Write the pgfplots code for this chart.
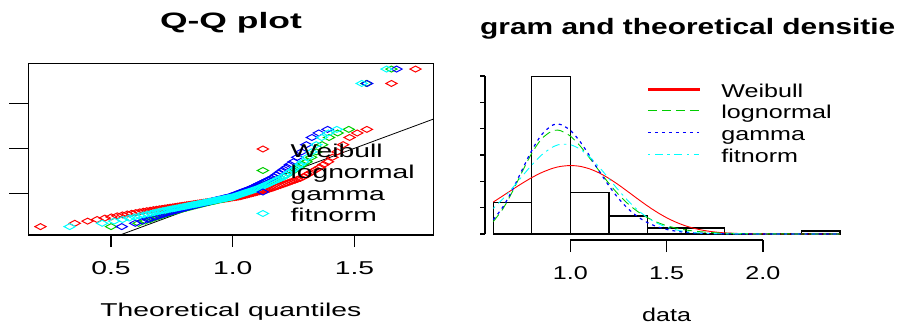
\documentclass[border=0pt]{standalone}
\usepackage{pgfplots}
\pgfplotsset{compat=1.18}
\usepackage{pgfplotstable}
\usepackage{graphicx}
\usepackage{fontspec}
\setmainfont{Liberation Sans}

\definecolor{rred}{RGB}{255,0,0}
\definecolor{rgreen}{RGB}{0,205,0}
\definecolor{rblue}{RGB}{0,0,255}
\definecolor{rcyan}{RGB}{0,255,255}

\newcommand\fs{\fontsize{18.6pt}{20pt}\selectfont}
\newcommand\ft{\fontsize{22.3pt}{24pt}\selectfont\bfseries}
\newcommand\sxl[1]{\scalebox{1.52}[1]{#1}}
\newcommand\sxr[1]{\scalebox{1.35}[1]{#1}}

% sorted sample (y) against theoretical quantiles of the four fits
\pgfplotstableread{
y     W      LN     G      N
0.630 0.2100 0.5000 0.5439 0.3300
0.667 0.3510 0.6132 0.5993 0.4635
0.691 0.4036 0.6412 0.6294 0.5125
0.709 0.4426 0.6618 0.6521 0.5471
0.725 0.4744 0.6784 0.6687 0.5744
0.738 0.5015 0.6926 0.6835 0.5970
0.750 0.5254 0.7050 0.6965 0.6166
0.760 0.5469 0.7162 0.7081 0.6339
0.770 0.5666 0.7267 0.7189 0.6498
0.778 0.5847 0.7362 0.7286 0.6640
0.786 0.6016 0.7452 0.7378 0.6773
0.794 0.6175 0.7538 0.7466 0.6899
0.801 0.6326 0.7619 0.7548 0.7016
0.807 0.6468 0.7695 0.7630 0.7126
0.812 0.6605 0.7769 0.7700 0.7231
0.818 0.6735 0.7841 0.7772 0.7331
0.823 0.6861 0.7909 0.7841 0.7427
0.828 0.6982 0.7975 0.7906 0.7518
0.832 0.7099 0.8042 0.7973 0.7609
0.837 0.7212 0.8103 0.8034 0.7693
0.841 0.7322 0.8166 0.8096 0.7777
0.846 0.7429 0.8227 0.8156 0.7859
0.850 0.7533 0.8286 0.8215 0.7938
0.854 0.7635 0.8345 0.8273 0.8015
0.858 0.7735 0.8402 0.8329 0.8090
0.862 0.7832 0.8457 0.8383 0.8162
0.866 0.7928 0.8513 0.8438 0.8234
0.870 0.8022 0.8568 0.8491 0.8304
0.873 0.8114 0.8623 0.8545 0.8374
0.877 0.8205 0.8676 0.8597 0.8442
0.880 0.8294 0.8730 0.8649 0.8510
0.884 0.8382 0.8782 0.8699 0.8575
0.887 0.8469 0.8835 0.8750 0.8640
0.891 0.8555 0.8887 0.8801 0.8706
0.894 0.8639 0.8938 0.8850 0.8769
0.898 0.8723 0.8990 0.8899 0.8832
0.901 0.8806 0.9042 0.8949 0.8895
0.904 0.8888 0.9092 0.8997 0.8955
0.908 0.8969 0.9144 0.9047 0.9019
0.911 0.9050 0.9195 0.9095 0.9079
0.914 0.9130 0.9246 0.9143 0.9140
0.917 0.9210 0.9296 0.9190 0.9198
0.920 0.9289 0.9347 0.9239 0.9259
0.924 0.9368 0.9397 0.9286 0.9317
0.927 0.9446 0.9449 0.9335 0.9378
0.930 0.9524 0.9499 0.9383 0.9436
0.933 0.9602 0.9550 0.9430 0.9495
0.936 0.9679 0.9601 0.9478 0.9553
0.939 0.9756 0.9652 0.9526 0.9611
0.942 0.9833 0.9704 0.9574 0.9670
0.946 0.9911 0.9758 0.9624 0.9730
0.949 0.9987 0.9810 0.9672 0.9789
0.952 1.0064 0.9862 0.9721 0.9847
0.955 1.0141 0.9915 0.9770 0.9905
0.958 1.0218 0.9968 0.9818 0.9964
0.962 1.0296 1.0021 0.9868 1.0022
0.967 1.0373 1.0076 0.9919 1.0083
0.973 1.0450 1.0130 0.9968 1.0141
0.978 1.0528 1.0186 1.0019 1.0202
0.983 1.0606 1.0241 1.0069 1.0260
0.989 1.0685 1.0297 1.0121 1.0321
0.994 1.0764 1.0355 1.0173 1.0382
1.000 1.0843 1.0414 1.0227 1.0445
1.005 1.0923 1.0472 1.0280 1.0505
1.011 1.1004 1.0532 1.0334 1.0568
1.017 1.1085 1.0593 1.0389 1.0631
1.022 1.1167 1.0654 1.0444 1.0694
1.028 1.1250 1.0718 1.0501 1.0760
1.034 1.1333 1.0782 1.0559 1.0825
1.040 1.1418 1.0846 1.0616 1.0890
1.046 1.1504 1.0913 1.0676 1.0958
1.053 1.1591 1.0981 1.0736 1.1026
1.061 1.1679 1.1051 1.0799 1.1096
1.070 1.1769 1.1122 1.0862 1.1166
1.079 1.1860 1.1196 1.0927 1.1238
1.087 1.1953 1.1270 1.0992 1.1310
1.096 1.2047 1.1347 1.1060 1.1385
1.105 1.2144 1.1427 1.1130 1.1462
1.115 1.2243 1.1510 1.1202 1.1542
1.125 1.2344 1.1596 1.1277 1.1623
1.135 1.2448 1.1685 1.1355 1.1707
1.145 1.2555 1.1775 1.1433 1.1791
1.156 1.2666 1.1873 1.1517 1.1882
1.167 1.2780 1.1972 1.1602 1.1973
1.183 1.2898 1.2077 1.1692 1.2069
1.202 1.3021 1.2188 1.1787 1.2169
1.222 1.3150 1.2305 1.1887 1.2274
1.243 1.3285 1.2429 1.1992 1.2384
1.265 1.3427 1.2562 1.2104 1.2501
1.289 1.3577 1.2707 1.2226 1.2627
1.320 1.3737 1.2862 1.2355 1.2760
1.350 1.3910 1.3030 1.2495 1.2902
1.400 1.4097 1.3220 1.2652 1.3061
1.460 1.4304 1.3430 1.2824 1.3234
1.540 1.4535 1.3672 1.3022 1.3430
1.620 1.4800 1.3957 1.3253 1.3656
1.670 1.5115 1.4309 1.3534 1.3929
1.710 1.5511 1.4767 1.3896 1.4275
2.220 1.6520 1.5490 1.5520 1.5300
2.380 1.7510 1.6520 1.6730 1.6320
}\qqdata

% fitted densities on a grid over the data range
\pgfplotstableread{
x     W      LN     G      N
0.600 0.6067 0.2364 0.2719 0.4865
0.650 0.7252 0.4779 0.5137 0.6678
0.700 0.8456 0.8084 0.8414 0.8755
0.750 0.9627 1.1824 1.2192 1.0962
0.800 1.0710 1.5344 1.5874 1.3111
0.850 1.1645 1.8023 1.8816 1.4977
0.900 1.2370 1.9475 2.0523 1.6341
0.925 1.2639 1.9701 2.0835 1.6778
0.950 1.2836 1.9609 2.0784 1.7030
1.000 1.3001 1.8594 1.9692 1.6952
1.050 1.2846 1.6749 1.7569 1.6118
1.100 1.2367 1.4436 1.4844 1.4637
1.150 1.1590 1.1979 1.1934 1.2696
1.200 1.0560 0.9617 0.9169 1.0519
1.250 0.9343 0.7504 0.6757 0.8323
1.300 0.8015 0.5711 0.4792 0.6291
1.350 0.6657 0.4252 0.3279 0.4542
1.400 0.5344 0.3107 0.2172 0.3132
1.450 0.4140 0.2232 0.1395 0.2063
1.500 0.3089 0.1580 0.0871 0.1298
1.550 0.2218 0.1105 0.0529 0.0780
1.600 0.1527 0.0764 0.0314 0.0448
1.650 0.1008 0.0523 0.0182 0.0245
1.700 0.0636 0.0355 0.0103 0.0128
1.750 0.0382 0.0239 0.0057 0.0064
1.800 0.0219 0.0160 0.0031 0.0031
1.900 0.0062 0.0070 0.0009 0.0006
2.000 0.0014 0.0030 0.0002 0.0001
2.100 0.0002 0.0013 0.0000 0.0000
2.200 0.0000 0.0006 0.0000 0.0000
2.300 0.0000 0.0002 0.0000 0.0000
2.400 0.0000 0.0001 0.0000 0.0000
}\densdata

% histogram bars (density per 0.2-wide bin), traced as one outline
\pgfplotstableread{
x   d
0.6 0
0.6 0.593
0.8 0.593
0.8 0
0.8 2.994
1.0 2.994
1.0 0
1.0 0.791
1.2 0.791
1.2 0
1.2 0.339
1.4 0.339
1.4 0
1.4 0.113
1.6 0.113
1.6 0
1.6 0.113
1.8 0.113
1.8 0
2.2 0
2.2 0.0565
2.4 0.0565
2.4 0
0.6 0
}\histdata

\begin{document}
\begin{tikzpicture}[x=1pt,y=1pt]
\path[use as bounding box] (0,0) rectangle (920,324);

% ---------------- Q-Q plot ----------------
\node[anchor=base, inner sep=0pt] at (231,295) {\ft\scalebox{1.59}[1]{Q-Q plot}};

\begin{axis}[
  at={(28.3pt,89pt)}, anchor=south west,
  scale only axis, width=405pt, height=171.7pt,
  xmin=0.16, xmax=1.824, ymin=0.537, ymax=2.444,
  clip=false,
  axis line style={line width=1.2pt},
  xtick={0.5,1.0,1.5}, xticklabels={\sxl{0.5},\sxl{1.0},\sxl{1.5}},
  ytick=\empty,
  xtick pos=left, tick align=outside, major tick length=12pt,
  every tick/.style={black, line width=1.2pt},
  xticklabel style={font=\fs, anchor=base, yshift=-27.7pt},
  xlabel={\sxl{Theoretical quantiles}},
  xlabel style={font=\fs, at={(axis description cs:0.5,0)}, anchor=base, yshift=-81.6pt},
  legend cell align=left,
  legend style={draw=none, fill=none, font=\fs, at={(axis cs:1.100,1.611)}, anchor=north west,
    inner sep=0pt, row sep=0.5pt, column sep=22pt,
    nodes={inner sep=0pt, text height=18.5pt, text depth=2.5pt}},
  legend image code/.code={\draw[#1] plot coordinates {(0pt,0pt)};},
  qq/.style={only marks, mark=diamond, mark size=3pt,
    mark options={solid, xscale=2.5, line width=1pt}},
]
\addplot[qq, color=rred]   table[x=W,  y=y] {\qqdata}; \addlegendentry{\sxl{Weibull}}
\addplot[qq, color=rgreen] table[x=LN, y=y] {\qqdata}; \addlegendentry{\sxl{lognormal}}
\addplot[qq, color=rblue]  table[x=G,  y=y] {\qqdata}; \addlegendentry{\sxl{gamma}}
\addplot[qq, color=rcyan]  table[x=N,  y=y] {\qqdata}; \addlegendentry{\sxl{fitnorm}}
% reference line y = x
\addplot[black, line width=0.8pt, forget plot] coordinates {(0.537,0.537) (1.824,1.824)};
% y ticks drawn outward to the left
\draw[line width=1.2pt] (axis cs:0.16,1.0) -- ++(-19pt,0pt);
\draw[line width=1.2pt] (axis cs:0.16,1.5) -- ++(-19pt,0pt);
\draw[line width=1.2pt] (axis cs:0.16,2.0) -- ++(-19pt,0pt);
\end{axis}

% ---------------- histogram and densities ----------------
\node[anchor=base west, inner sep=0pt] at (480,289) {\ft\scalebox{1.34}[1]{gram and theoretical densitie}};

% the bars, in their own axis underneath the curves
\begin{axis}[
  at={(485pt,84pt)}, anchor=south west,
  scale only axis, width=365pt, height=164pt,
  xmin=0.557, xmax=2.452, ymin=-0.114, ymax=3.0,
  clip=false, hide axis,
]
\addplot[black, line width=1.3pt, line join=miter] table[x=x, y=d] {\histdata};
\end{axis}

\begin{axis}[
  at={(485pt,84pt)}, anchor=south west,
  scale only axis, width=365pt, height=164pt,
  xmin=0.557, xmax=2.452, ymin=-0.114, ymax=3.0,
  clip=false,
  axis line style={draw=none},
  xtick={1.0,1.5,2.0}, xticklabels={\sxr{1.0},\sxr{1.5},\sxr{2.0}},
  ytick=\empty,
  xtick pos=left, tick align=outside, major tick length=12pt,
  every tick/.style={black, line width=1.2pt},
  xticklabel style={font=\fs, anchor=base, yshift=-27.7pt},
  xlabel={\sxr{data}},
  xlabel style={font=\fs, at={(axis cs:1.5,-0.114)}, anchor=base, yshift=-81.5pt},
  legend cell align=left,
  legend style={draw=none, fill=none, font=\fs, at={(axis cs:1.398,2.95)}, anchor=north west,
    inner sep=0pt, row sep=0.6pt, column sep=22pt,
    nodes={inner sep=0pt, text height=18.5pt, text depth=2.5pt}},
]
\addplot[color=rred, line width=0.9pt, smooth, forget plot] table[x=x, y=W]  {\densdata};
\addplot[color=rgreen, line width=0.9pt, smooth, dash pattern=on 9pt off 5pt, forget plot] table[x=x, y=LN] {\densdata};
\addplot[color=rblue, line width=1.2pt, smooth, dash pattern=on 3pt off 4pt, forget plot] table[x=x, y=G]  {\densdata};
\addplot[color=rcyan, line width=0.9pt, smooth, dash pattern=on 2.5pt off 4.5pt on 8pt off 4.5pt, forget plot] table[x=x, y=N]  {\densdata};
% the solid Weibull key is a thin filled strip
\addlegendimage{legend image code/.code={\fill[rred] (0pt,-0.7pt) rectangle (51pt,0.7pt);}}
\addlegendentry{\sxr{Weibull}}
\addlegendimage{legend image code/.code={\draw[draw=rgreen, line width=0.9pt, dash pattern=on 9pt off 5pt] (0pt,0pt) -- (51pt,0pt);}}
\addlegendentry{\sxr{lognormal}}
\addlegendimage{legend image code/.code={\draw[draw=rblue, line width=1.2pt, dash pattern=on 3pt off 4pt] (0pt,0pt) -- (51pt,0pt);}}
\addlegendentry{\sxr{gamma}}
\addlegendimage{legend image code/.code={\draw[draw=rcyan, line width=0.9pt, dash pattern=on 2.5pt off 4.5pt on 8pt off 4.5pt] (0pt,0pt) -- (51pt,0pt);}}
\addlegendentry{\sxr{fitnorm}}
% R-style axis lines spanning the tick range
\draw[line width=1.2pt] (axis cs:1.0,-0.114) -- (axis cs:2.0,-0.114);
\draw[line width=1.2pt] (axis cs:0.557,0) -- (axis cs:0.557,3.0);
\draw[line width=1.2pt] (axis cs:0.557,0.0) -- ++(-5pt,0pt);
\draw[line width=1.2pt] (axis cs:0.557,0.5) -- ++(-5pt,0pt);
\draw[line width=1.2pt] (axis cs:0.557,1.0) -- ++(-5pt,0pt);
\draw[line width=1.2pt] (axis cs:0.557,1.5) -- ++(-5pt,0pt);
\draw[line width=1.2pt] (axis cs:0.557,2.0) -- ++(-5pt,0pt);
\draw[line width=1.2pt] (axis cs:0.557,2.5) -- ++(-5pt,0pt);
\draw[line width=1.2pt] (axis cs:0.557,3.0) -- ++(-5pt,0pt);
\end{axis}
\end{tikzpicture}
\end{document}
